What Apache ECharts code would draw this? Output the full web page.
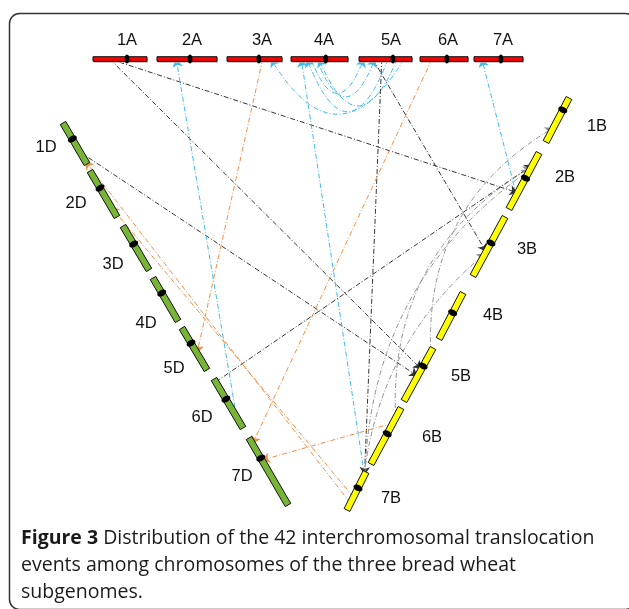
<!DOCTYPE html>
<html><head><meta charset="utf-8">
<script src="https://cdn.jsdelivr.net/npm/echarts@6/dist/echarts.min.js"></script>
<style>html,body{margin:0;padding:0;background:#fff}#c{width:629px;height:609px}</style>
</head><body><div id="c"></div>
<script>
// ---- data ----
const chromosomes = ['1A','2A','3A','4A','5A','6A','7A','1B','2B','3B','4B','5B','6B','7B','1D','2D','3D','4D','5D','6D','7D'];
// centromere position as fraction along each chromosome (from its drawn start)
const centromere = [0.63,0.55,0.58,0.61,0.64,0.56,0.55, 0.27,0.45,0.44,0.43,0.34,0.46,0.42, 0.39,0.37,0.41,0.35,0.36,0.41,0.30];
// translocation events: [from, position on from, to, position on to, class, curvature]
const links = [
  ['1A',0.31,'2B',0.71,'k',0],
  ['1A',0.31,'5B',0.40,'k',0],
  ['1D',0.71,'5B',0.53,'k',0],
  ['6D',0.06,'2B',0.21,'k',0],
  ['5A',0.26,'3B',0.59,'k',0],
  ['5A',0.43,'7B',0.08,'k',0],
  ['5B',0.08,'1B',0.68,'g',0.3],
  ['6B',0.18,'2B',0.25,'g',0.3],
  ['7B',0.10,'3B',0.62,'g',0.2],
  ['7B',0.05,'2B',0.30,'g',0.25],
  ['6D',0.78,'2A',0.32,'c',0],
  ['7B',0.08,'4A',0.18,'c',0],
  ['2B',0.75,'7A',0.16,'c',0],
  ['5A',0.85,'3A',0.80,'c',0.83],
  ['5A',0.55,'4A',0.28,'c',1.3],
  ['5A',0.72,'4A',0.49,'c',1.2],
  ['4A',0.35,'5A',0.09,'c',-1.3],
  ['4A',0.45,'5A',0.30,'c',-1.3],
  ['3A',0.65,'5D',0.60,'o',0],
  ['6A',0.25,'7D',0.09,'o',0],
  ['6B',0.27,'7D',0.33,'o',0],
  ['7B',0.82,'1D',0.93,'o',0],
  ['7B',0.66,'2D',0.78,'o',0]
];
const captionBold = 'Figure 3';
const captionText = ' Distribution of the 42 interchromosomal translocation\nevents among chromosomes of the three bread wheat\nsubgenomes.';

// ---- layout (figure coordinates) ----
const chrStart = [[93,59],[157,59],[227,59],[291,59],[359,59],[420,59],[474,59],
  [569,98],[539,153],[505,217],[463,293],[433,348],[401,408],[366,472],
  [63,123],[90,171],[123,226],[153,278],[182,328],[214,379],[249,438]];
const chrEnd = [[147,59],[217,59],[282,59],[348,59],[412,59],[468,59],[523,59],
  [546,142],[509,209],[473,276],[439,339],[404,401],[371,464],[347,510],
  [87,164],[117,217],[149,270],[178,321],[207,370],[243,428],[288,505]];
const labelPos = [[127,40],[192,40],[262,40],[324,40],[391,40],[448,40],[503,40],
  [597,126],[565,177],[527,249],[493,315],[461,376],[432,437],[391,498],
  [46,147],[76,203],[113,264],[146,323],[174,368],[202,417],[242,476]];
const genomeColor = {A:'#ff0000', B:'#ffff00', D:'#78b435'};
const linkColor = {k:'#2a2a2a', g:'#8a8a8a', c:'#35b6ec', o:'#f0883a'};

function pointOn(name, t){
  const i = chromosomes.indexOf(name);
  const a = chrStart[i], b = chrEnd[i];
  return [a[0]+(b[0]-a[0])*t, a[1]+(b[1]-a[1])*t];
}

const chrData = chromosomes.map((n,i)=>[i]);
const lineData = links.map(l=>({
  coords:[pointOn(l[0],l[1]), pointOn(l[2],l[3])],
  lineStyle:{color:linkColor[l[4]], curveness:l[5]}
}));

const chart = echarts.init(document.getElementById('c'));
chart.setOption({
  animation:false,
  grid:{left:0,right:0,top:0,bottom:0},
  xAxis:{type:'value',min:0,max:629,show:false},
  yAxis:{type:'value',min:0,max:609,inverse:true,show:false},
  graphic:[
    {type:'rect',shape:{x:9.5,y:13.5,width:626,height:596,r:10},style:{fill:'none',stroke:'#333',lineWidth:1.5},z:-1},
    {type:'text',left:21,top:525,style:{
      text:'{b|'+captionBold+'}'+captionText,
      rich:{b:{fontWeight:'bold',fontFamily:'Open Sans',fontSize:19.5,fill:'#1a1a1a'}},
      fontFamily:'Open Sans',fontSize:19.5,fill:'#1a1a1a',lineHeight:27}}
  ],
  series:[
    {
      type:'lines',coordinateSystem:'cartesian2d',z:3,
      symbol:['none','arrow'],symbolSize:8,
      lineStyle:{width:1,type:[5,2,1,2],opacity:0.95},
      data:lineData
    },
    {
      type:'custom',coordinateSystem:'cartesian2d',z:5,
      data:chrData,
      renderItem:function(params,api){
        const i = api.value(0);
        const name = chromosomes[i];
        const g = name.charAt(1);
        const p0 = api.coord(chrStart[i]), p1 = api.coord(chrEnd[i]);
        const dx=p1[0]-p0[0], dy=p1[1]-p0[1], L=Math.hypot(dx,dy);
        const ux=dx/L, uy=dy/L, nx=-uy, ny=ux;
        const w = g==='A'?2.3:3.2;
        const poly=[[p0[0]+nx*w,p0[1]+ny*w],[p1[0]+nx*w,p1[1]+ny*w],[p1[0]-nx*w,p1[1]-ny*w],[p0[0]-nx*w,p0[1]-ny*w]];
        const t=centromere[i];
        const cx=p0[0]+dx*t, cy=p0[1]+dy*t;
        const ell=[];
        const ea = g==='A'?2.4:3.0, eb = g==='A'?4.5:4.8;
        for(let k=0;k<24;k++){const a=k/24*Math.PI*2;const u=Math.cos(a)*ea, v=Math.sin(a)*eb;ell.push([cx+ux*u+nx*v, cy+uy*u+ny*v]);}
        const lp = api.coord(labelPos[i]);
        const children=[];
        if(g==='A'){
          children.push({type:'polygon',shape:{points:poly.map(p=>[p[0]+1,p[1]+1.5])},style:{fill:'#b8b8b8'}});
        }
        children.push({type:'polygon',shape:{points:poly},style:{fill:genomeColor[g],stroke:'#111',lineWidth:1}});
        children.push({type:'polygon',shape:{points:ell},style:{fill:'#000'}});
        children.push({type:'text',x:lp[0],y:lp[1],style:{text:name,fontFamily:'Liberation Sans',fontSize:16.5,fill:'#111',align:'center',verticalAlign:'middle'}});
        return {type:'group',children:children};
      }
    }
  ]
});
</script></body></html>
